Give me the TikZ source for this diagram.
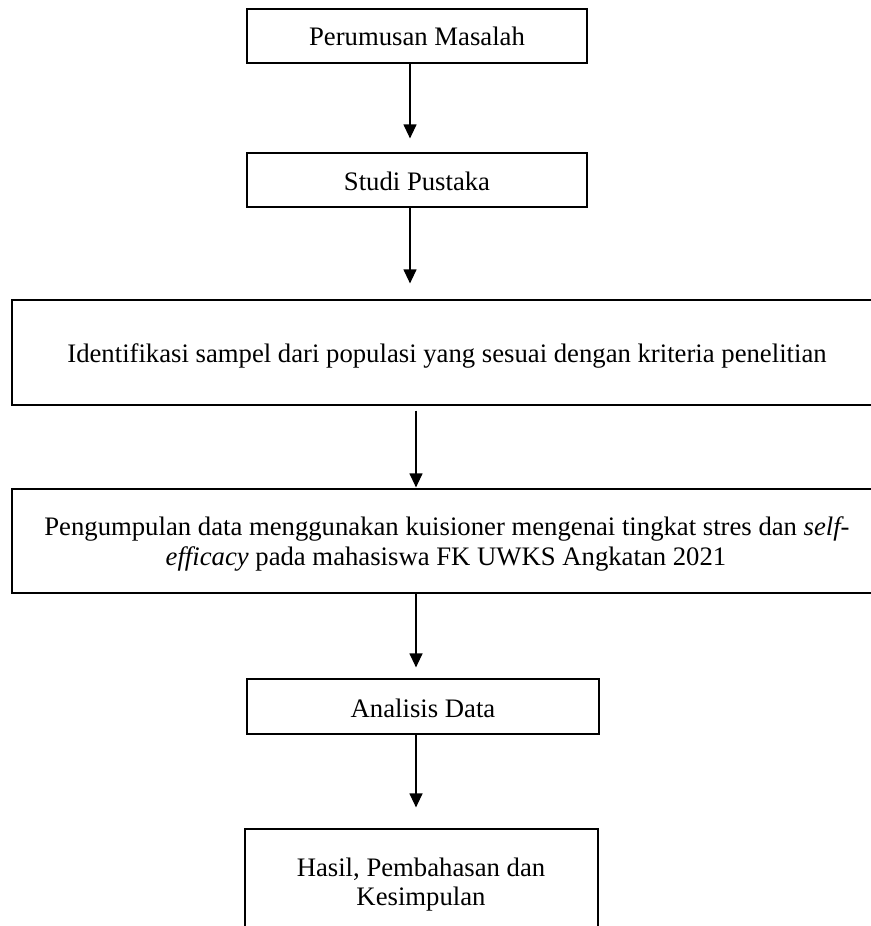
\documentclass[tikz,border=0pt]{standalone}
\usepackage{fontspec}
\setmainfont{Liberation Serif}
\usetikzlibrary{arrows.meta}
\begin{document}
\begin{tikzpicture}[x=1pt,y=-1pt,
  box/.style={draw=black,line width=1.2pt,rectangle,inner sep=0pt},
  txt/.style={anchor=base,inner sep=0pt,font=\fontsize{26.7}{30.7}\selectfont},
  arr/.style={-{Triangle[length=14pt,width=13pt]},line width=1.2pt}]
\useasboundingbox (0,0) rectangle (870,926);
% boxes
\node[box,minimum width=340pt,minimum height=54pt] (b1) at (417,36) {};
\node[box,minimum width=340pt,minimum height=54pt] (b2) at (417,180) {};
\node[box,minimum width=870pt,minimum height=105pt] (b3) at (447,352.5) {};
\node[box,minimum width=870pt,minimum height=104pt] (b4) at (447,541) {};
\node[box,minimum width=352pt,minimum height=55pt] (b5) at (423,706.5) {};
\node[box,minimum width=353pt,minimum height=116pt] (b6) at (421.5,887) {};
% texts
\node[txt] (t1) at (417,45) {Perumusan Masalah};
\node[txt] (t2) at (417,190) {Studi Pustaka};
\node[txt] (t3) at (447,362) {Identifikasi sampel dari populasi yang sesuai dengan kriteria penelitian};
\node[txt] (t4a) at (447,535) {Pengumpulan data menggunakan kuisioner mengenai tingkat stres dan \textit{self-}};
\node[txt] (t4b) at (446,565) {\textit{efficacy} pada mahasiswa FK UWKS Angkatan 2021};
\node[txt] (t5) at (423,717) {Analisis Data};
\node[txt] (t6a) at (421,876) {Hasil, Pembahasan dan};
\node[txt] (t6b) at (421,905) {Kesimpulan};
% arrow columns
\coordinate (ax1) at (410,0);
\coordinate (ax2) at (416,0);
\draw[arr,shorten >=14pt] (b1.south -| ax1) -- (b2.north -| ax1);
\draw[arr,shorten >=16pt] (b2.south -| ax1) -- (b3.north -| ax1);
\draw[arr,shorten <=5pt,shorten >=1pt] (b3.south -| ax2) -- (b4.north -| ax2);
\draw[arr,shorten >=11pt] (b4.south -| ax2) -- (b5.north -| ax2);
\draw[arr,shorten >=21pt] (b5.south -| ax2) -- (b6.north -| ax2);
\end{tikzpicture}
\end{document}
